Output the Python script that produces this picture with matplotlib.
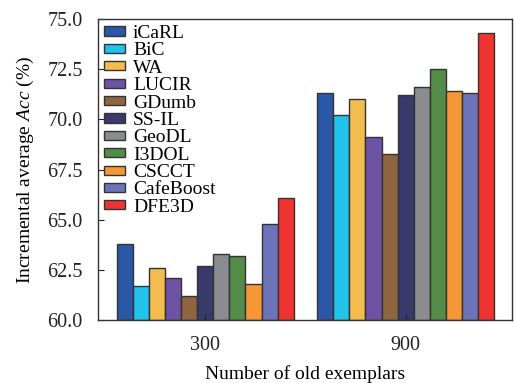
import numpy as np
import matplotlib
matplotlib.use("Agg")
from matplotlib import pyplot as plt

methods = ["iCaRL", "BiC", "WA", "LUCIR", "GDumb", "SS-IL", "GeoDL",
           "I3DOL", "CSCCT", "CafeBoost", "DFE3D"]
exemplars = ["300", "900"]
acc_300 = [63.8, 61.7, 62.6, 62.1, 61.2, 62.7, 63.3, 63.2, 61.8, 64.8, 66.1]
acc_900 = [71.3, 70.2, 71.0, 69.1, 68.3, 71.2, 71.6, 72.5, 71.4, 71.3, 74.3]
colors = ["#2A57A6", "#22C3EB", "#F2BC4E", "#6E52A3", "#8E6540", "#373A6B",
          "#8A8C90", "#548B48", "#F59637", "#6B74B8", "#EE3331"]

plt.rcParams["font.family"] = ["Liberation Serif", "DejaVu Serif"]
plt.rcParams["mathtext.fontset"] = "custom"
plt.rcParams["mathtext.rm"] = "Liberation Serif"
plt.rcParams["mathtext.it"] = "Liberation Serif:italic"
plt.rcParams["font.size"] = 14

fig = plt.figure(figsize=(5.14, 3.83), dpi=100)
ax = fig.add_axes([0.1907, 0.1645, 0.8053, 0.7855])

x = np.arange(len(exemplars))
w = 0.0803
for i, m in enumerate(methods):
    vals = [acc_300[i], acc_900[i]]
    ax.bar(x + (i - 5) * w, np.array(vals) - 60, w, bottom=60, color=colors[i],
           edgecolor="#333333", linewidth=1.0, label=m)

ax.set_xlim(-0.535, 1.53)
ax.set_ylim(60, 75)
ax.set_yticks(np.arange(60, 75.1, 2.5))
ax.set_yticklabels([f"{v:.1f}" for v in np.arange(60, 75.1, 2.5)], fontsize=14.5)
ax.set_xticks(x)
ax.set_xticklabels(exemplars, fontsize=14.5)
ax.tick_params(axis="y", direction="in", length=4, pad=11, colors="#222222")
ax.tick_params(axis="x", direction="in", length=4, pad=11.5, colors="#222222")
for s in ax.spines.values():
    s.set_color("#333333")
    s.set_linewidth(1.0)

ax.set_xlabel("Number of old exemplars", labelpad=7.5)
ax.set_ylabel(r"Incremental average $\mathit{Acc}$ (%)", labelpad=8)

ax.legend(loc="upper left", frameon=False, fontsize=14, labelspacing=0.02,
          handlelength=1.1, handleheight=0.35, handletextpad=0.4,
          borderaxespad=0.1, borderpad=0.2)

fig.savefig("out.png", dpi=100)
